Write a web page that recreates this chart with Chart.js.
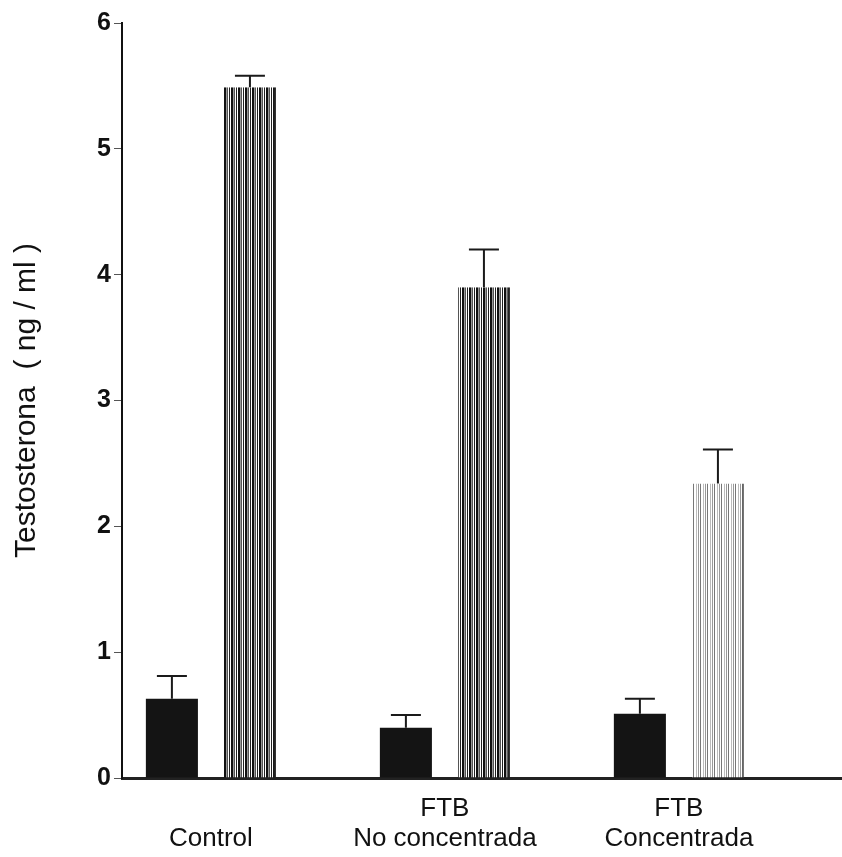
<!DOCTYPE html>
<html>
<head>
<meta charset="utf-8">
<title>Testosterona</title>
<script src="https://cdn.jsdelivr.net/npm/chart.js@4.4.1/dist/chart.umd.min.js"></script>
<style>
  body { margin: 0; background: #fff; }
  canvas { display: block; }
</style>
</head>
<body>
<canvas id="testoChart" width="842" height="857"></canvas>
<script>
// group labels (two lines each, first line left blank for Control)
const groupLabels = [['', 'Control'], ['FTB', 'No concentrada'], ['FTB', 'Concentrada']];
const groupPos = [0, 1, 2];

// first series (solid bars) and its error
const basalValues = [0.63, 0.40, 0.51];
const basalErr = [0.18, 0.10, 0.12];

// second series (striped bars) and its error
const stimValues = [5.49, 3.90, 2.34];
const stimErr = [0.09, 0.30, 0.27];

const yTicks = [0, 1, 2, 3, 4, 5, 6];

// vertical stripe fill
function stripes(lines, width) {
  const c = document.createElement('canvas');
  c.width = width;
  c.height = 8;
  const g = c.getContext('2d');
  g.fillStyle = '#fff';
  g.fillRect(0, 0, c.width, c.height);
  lines.forEach(([x, w, col]) => {
    g.fillStyle = col;
    g.fillRect(x, 0, w, c.height);
  });
  return g.createPattern(c, 'repeat');
}

const darkStripes = stripes([[0, 2, '#111'], [2, 1, '#999'], [3, 1, '#555'], [5, 1, '#222']], 7);
const lightStripes = stripes([[0, 1, '#777'], [3, 1, '#bbb'], [5, 1, '#999']], 7);

// upward error bars with caps
const errorBars = {
  id: 'errorBars',
  afterDatasetsDraw(chart) {
    const ctx = chart.ctx;
    const yScale = chart.scales.y;
    const errs = [basalErr, stimErr];
    ctx.save();
    ctx.strokeStyle = '#1a1a1a';
    ctx.lineWidth = 2;
    chart.data.datasets.forEach((ds, di) => {
      const meta = chart.getDatasetMeta(di);
      meta.data.forEach((bar, i) => {
        const v = ds.data[i].y;
        const top = yScale.getPixelForValue(v + errs[di][i]);
        ctx.beginPath();
        ctx.moveTo(bar.x, bar.y);
        ctx.lineTo(bar.x, top);
        ctx.moveTo(bar.x - 15, top);
        ctx.lineTo(bar.x + 15, top);
        ctx.stroke();
      });
    });
    ctx.restore();
  }
};

const ctx = document.getElementById('testoChart').getContext('2d');

const chart = new Chart(ctx, {
  type: 'bar',
  data: {
    datasets: [
      {
        label: 'basal',
        data: groupPos.map((x, i) => ({ x: x, y: basalValues[i] })),
        backgroundColor: '#141414',
        borderWidth: 0,
        barPercentage: 0.667,
        categoryPercentage: 0.667
      },
      {
        label: 'estimulada',
        data: groupPos.map((x, i) => ({ x: x, y: stimValues[i] })),
        backgroundColor: [darkStripes, darkStripes, lightStripes],
        borderColor: ['#222', '#222', '#666'],
        borderWidth: { left: 0, right: 2, top: 0, bottom: 0 },
        barPercentage: 0.667,
        categoryPercentage: 0.667
      }
    ]
  },
  options: {
    responsive: false,
    animation: false,
    layout: { padding: { left: 5, top: 23, right: 0, bottom: 0 } },
    plugins: {
      legend: { display: false },
      tooltip: { enabled: false }
    },
    scales: {
      x: {
        type: 'linear',
        offset: false,
        min: -0.38,
        max: 2.697,
        afterBuildTicks: (scale) => {
          scale.ticks = groupPos.map(v => ({ value: v }));
        },
        afterFit: (scale) => { scale.height = 79; },
        grid: { display: false, offset: false },
        border: { display: true, color: '#222', width: 3 },
        ticks: {
          autoSkip: false,
          maxRotation: 0,
          padding: 8,
          color: '#111',
          font: { family: 'Liberation Sans', size: 26, lineHeight: 1.15 },
          callback: (v) => groupLabels[v]
        }
      },
      y: {
        min: 0,
        max: 6,
        afterBuildTicks: (scale) => {
          scale.ticks = yTicks.map(v => ({ value: v }));
        },
        afterFit: (scale) => { scale.width = 117; },
        grid: {
          drawOnChartArea: false,
          drawTicks: true,
          tickLength: 8,
          tickColor: '#555',
          tickWidth: 1
        },
        border: { display: true, color: '#111', width: 2 },
        ticks: {
          padding: 3,
          color: '#111',
          font: { family: 'Liberation Sans', size: 25, weight: 'bold' }
        },
        title: {
          display: true,
          text: 'Testosterona  ( ng / ml )',
          color: '#111',
          padding: { top: 4, bottom: 0 },
          font: { family: 'Liberation Sans', size: 30 }
        }
      }
    }
  },
  plugins: [errorBars]
});
</script>
</body>
</html>
